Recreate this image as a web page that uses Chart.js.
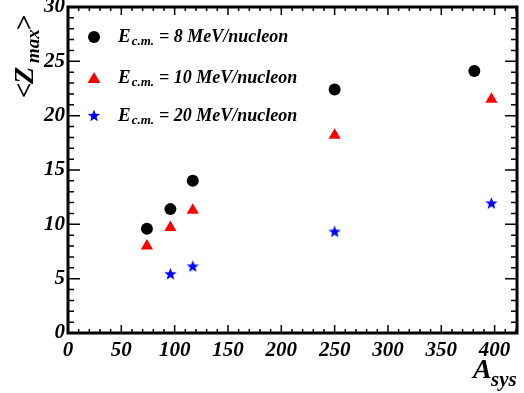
<!DOCTYPE html>
<html>
<head>
<meta charset="utf-8">
<script src="https://cdn.jsdelivr.net/npm/chart.js@4.4.1/dist/chart.umd.min.js"></script>
<style>
  html, body { margin: 0; padding: 0; background: #fff; }
</style>
</head>
<body>
<canvas id="zmax-chart" width="524" height="393"></canvas>
<script>
// data
const aSys8 = [74, 96, 117, 250, 381];
const zMax8 = [9.6, 11.4, 14.0, 22.4, 24.1];
const aSys10 = [74, 96, 117, 250, 397];
const zMax10 = [8.0, 9.7, 11.3, 18.2, 21.5];
const aSys20 = [96, 117, 250, 397];
const zMax20 = [5.4, 6.1, 9.3, 11.9];
const energies = ['8', '10', '20'];
const xTickStep = 50;
const yTickStep = 5;

const FONT = '"Liberation Serif", "DejaVu Serif", serif';

// filled five-point star used as a point image
function makeStar(r, color) {
    const c = document.createElement('canvas');
    c.width = c.height = Math.ceil(2 * r + 2);
    const g = c.getContext('2d');
    drawStar(g, c.width / 2, c.height / 2, r, color);
    return c;
}
function drawStar(g, cx, cy, r, color) {
    g.beginPath();
    for (let i = 0; i < 10; i++) {
        const rr = i % 2 === 0 ? r : r * 0.42;
        const a = -Math.PI / 2 + i * Math.PI / 5;
        const px = cx + rr * Math.cos(a), py = cy + rr * Math.sin(a);
        if (i === 0) g.moveTo(px, py); else g.lineTo(px, py);
    }
    g.closePath();
    g.fillStyle = color;
    g.fill();
}
const starImg = makeStar(6.5, '#0000ff');

function toPoints(xs, ys) {
    return xs.map((x, i) => ({ x: x, y: ys[i] }));
}

// frame, inward ticks, legend and axis titles
const framePlugin = {
    id: 'frame',
    afterDraw(chart) {
        const ctx = chart.ctx;
        const a = chart.chartArea;
        const xs = chart.scales.x, ys = chart.scales.y;
        ctx.save();
        ctx.strokeStyle = '#000';

        // ticks
        ctx.lineWidth = 1.5;
        ctx.beginPath();
        for (let v = 0; v <= xs.max; v += 10) {
            const px = xs.getPixelForValue(v);
            const len = v % xTickStep === 0 ? 8 : 4;
            ctx.moveTo(px, a.bottom); ctx.lineTo(px, a.bottom - len);
            ctx.moveTo(px, a.top); ctx.lineTo(px, a.top + len);
        }
        for (let v = 0; v <= ys.max; v += 1) {
            const py = ys.getPixelForValue(v);
            const len = v % yTickStep === 0 ? 12 : 6;
            ctx.moveTo(a.left, py); ctx.lineTo(a.left + len, py);
            ctx.moveTo(a.right, py); ctx.lineTo(a.right - len, py);
        }
        ctx.stroke();

        // frame
        ctx.lineWidth = 3;
        ctx.strokeRect(a.left, a.top, a.right - a.left, a.bottom - a.top);

        // legend
        const rows = [37, 78, 116];
        const mx = 94, tx = 118;
        ctx.fillStyle = '#000';
        ctx.beginPath(); ctx.arc(mx, rows[0], 6, 0, Math.PI * 2); ctx.fill();
        ctx.fillStyle = '#ff0000';
        ctx.beginPath();
        ctx.moveTo(mx, rows[1] - 6); ctx.lineTo(mx + 6.5, rows[1] + 5); ctx.lineTo(mx - 6.5, rows[1] + 5);
        ctx.closePath(); ctx.fill();
        drawStar(ctx, mx, rows[2], 6.5, '#0000ff');

        ctx.fillStyle = '#000';
        ctx.textBaseline = 'alphabetic';
        ctx.textAlign = 'left';
        energies.forEach((e, i) => {
            const base = rows[i] + 5;
            ctx.font = 'italic bold 19px ' + FONT;
            ctx.fillText('E', tx, base);
            let x = tx + ctx.measureText('E').width + 1;
            ctx.font = 'italic bold 13px ' + FONT;
            ctx.fillText('c.m.', x, base + 3);
            x += ctx.measureText('c.m.').width + 5;
            ctx.font = 'italic bold 18px ' + FONT;
            ctx.fillText('= ' + e + ' MeV/nucleon', x, base);
        });

        // y title <Z_max>, rotated
        ctx.save();
        ctx.translate(33, 98);
        ctx.rotate(-Math.PI / 2);
        ctx.font = 'bold 27px ' + FONT;
        ctx.fillText('<', 0, 0);
        ctx.font = 'italic bold 28px ' + FONT;
        ctx.fillText('Z', 14, 0);
        ctx.font = 'italic bold 19px ' + FONT;
        ctx.fillText('max', 35, 6);
        ctx.font = 'bold 27px ' + FONT;
        ctx.fillText('>', 68, 0);
        ctx.restore();

        // x title A_sys
        ctx.font = 'italic bold 28px ' + FONT;
        ctx.fillText('A', 473, 378);
        ctx.font = 'italic bold 21px ' + FONT;
        ctx.fillText('sys', 491, 386);

        ctx.restore();
    }
};

const chart = new Chart(document.getElementById('zmax-chart'), {
    type: 'scatter',
    data: {
        datasets: [
            {
                label: 'E c.m. = 8 MeV/nucleon',
                data: toPoints(aSys8, zMax8),
                pointStyle: 'circle',
                pointRadius: 6,
                backgroundColor: '#000000',
                borderWidth: 0
            },
            {
                label: 'E c.m. = 10 MeV/nucleon',
                data: toPoints(aSys10, zMax10),
                pointStyle: 'triangle',
                pointRadius: 7,
                backgroundColor: '#ff0000',
                borderWidth: 0
            },
            {
                label: 'E c.m. = 20 MeV/nucleon',
                data: toPoints(aSys20, zMax20),
                pointStyle: starImg,
                pointRadius: 7,
                backgroundColor: '#0000ff',
                borderWidth: 0
            }
        ]
    },
    options: {
        responsive: false,
        animation: false,
        layout: { padding: { top: 7, right: 0, left: 0, bottom: 0 } },
        plugins: {
            legend: { display: false },
            tooltip: { enabled: false }
        },
        scales: {
            x: {
                type: 'linear',
                min: 0,
                max: 421,
                grid: { display: false, drawTicks: false },
                border: { display: false },
                ticks: {
                    stepSize: xTickStep,
                    includeBounds: false,
                    padding: 5,
                    color: '#000',
                    maxRotation: 0,
                    font: { family: FONT, size: 21, style: 'italic', weight: 'bold' }
                },
                afterFit: s => { s.height = 60; s.paddingLeft = 0; s.paddingRight = 0; }
            },
            y: {
                type: 'linear',
                min: 0,
                max: 30,
                grid: { display: false, drawTicks: false },
                border: { display: false },
                ticks: {
                    stepSize: yTickStep,
                    padding: 3,
                    color: '#000',
                    font: { family: FONT, size: 21, style: 'italic', weight: 'bold' }
                },
                afterFit: s => { s.width = 68; s.paddingTop = 0; s.paddingBottom = 0; }
            }
        }
    },
    plugins: [framePlugin]
});
</script>
</body>
</html>
